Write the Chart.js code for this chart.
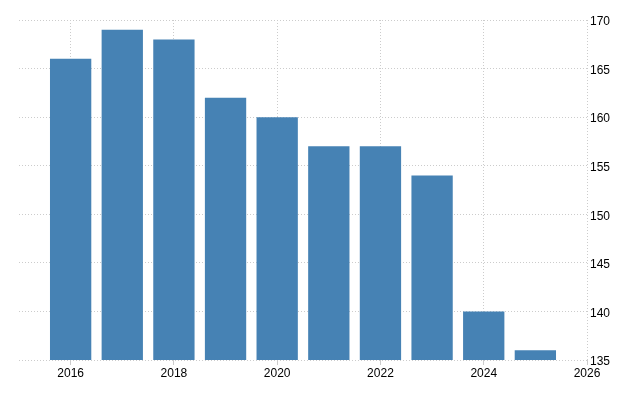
<!DOCTYPE html>
<html>
<head>
<meta charset="utf-8">
<style>
html,body{margin:0;padding:0;background:#fff;}
#wrap{width:640px;height:400px;}
</style>
<script src="https://cdn.jsdelivr.net/npm/chart.js@4/dist/chart.umd.min.js"></script>
</head>
<body>
<div id="wrap"><canvas id="c" width="640" height="400"></canvas></div>
<script>
const years = [2016, 2017, 2018, 2019, 2020, 2021, 2022, 2023, 2024, 2025];
const values = [166, 169, 168, 162, 160, 157, 157, 154, 140, 136];
const xTicks = [2016, 2018, 2020, 2022, 2024, 2026];
const yMin = 135, yMax = 170, yStep = 5;

const ctx = document.getElementById('c').getContext('2d');
new Chart(ctx, {
  type: 'bar',
  data: {
    datasets: [{
      data: years.map((y, i) => ({x: y, y: values[i]})),
      backgroundColor: '#4682b4',
      borderWidth: 0,
      barPercentage: 0.8,
      categoryPercentage: 1.0
    }]
  },
  options: {
    responsive: false,
    animation: false,
    devicePixelRatio: 1,
    layout: {padding: {left: 19, right: 0, top: 20, bottom: 0}},
    plugins: {legend: {display: false}, tooltip: {enabled: false}},
    scales: {
      x: {
        type: 'linear',
        offset: false,
        min: 2015, max: 2026,
        afterBuildTicks: s => { s.ticks = xTicks.map(v => ({value: v})); },
        afterFit: s => { s.height = 40; },
        grid: {
          offset: false,
          color: '#cccccc',
          tickBorderDash: [],
          tickColor: '#cccccc',
          tickLength: 5,
          drawTicks: true
        },
        border: {display: false, dash: [1, 2]},
        ticks: {
          color: '#000',
          font: {family: 'Liberation Sans, Arial, sans-serif', size: 12},
          padding: 1,
          maxRotation: 0,
          autoSkip: false,
          callback: v => String(v)
        }
      },
      y: {
        position: 'right',
        min: yMin, max: yMax,
        afterFit: s => { s.width = 53; },
        grid: {
          color: '#cccccc',
          drawTicks: false
        },
        border: {display: false, dash: [1, 2]},
        ticks: {
          stepSize: yStep,
          color: '#000',
          font: {family: 'Liberation Sans, Arial, sans-serif', size: 12},
          padding: 3,
          labelOffset: 2
        }
      }
    }
  }
});
</script>
</body>
</html>
